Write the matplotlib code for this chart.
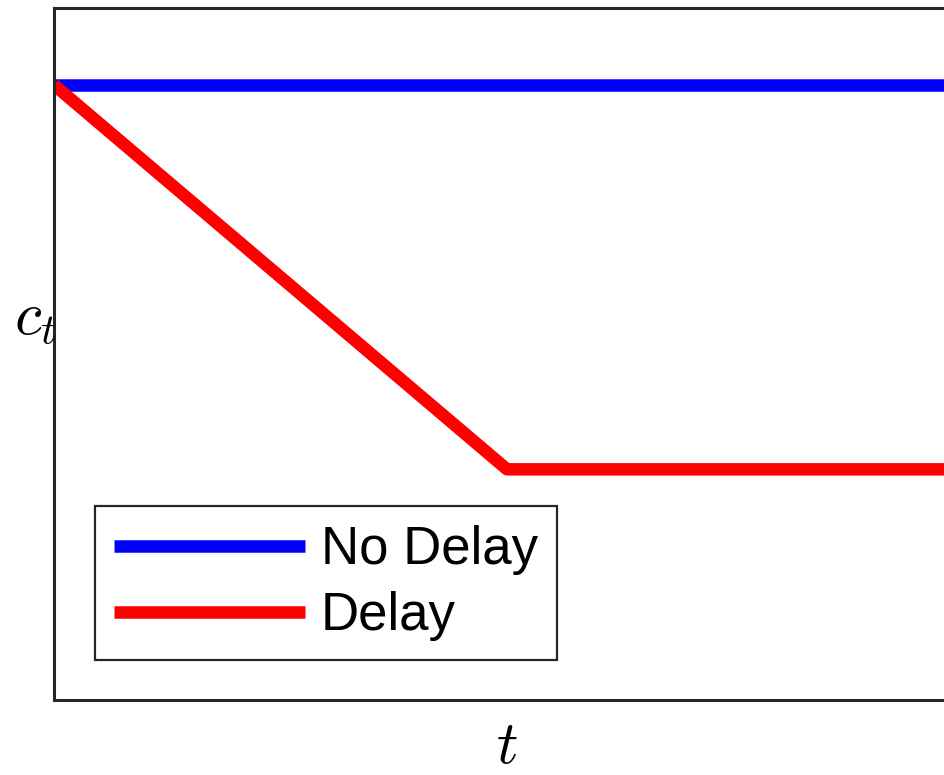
import matplotlib
matplotlib.use("Agg")
import matplotlib.pyplot as plt

plt.rcParams['mathtext.fontset'] = 'cm'
plt.rcParams['font.family'] = ['Liberation Sans', 'DejaVu Sans']

t_nodelay = [0, 2]
c_nodelay = [8, 8]
t_delay = [0, 1, 2]
c_delay = [8, 3, 3]
labels = ["No Delay", "Delay"]

W, H = 945, 775
fig = plt.figure(figsize=(W / 100, H / 100), dpi=100)
ax = fig.add_axes([54 / W, 75 / H, 906 / W, 692 / H])
ax.plot(t_nodelay, c_nodelay, color='#0000ff', lw=9, label=labels[0], solid_capstyle='butt')
ax.plot(t_delay, c_delay, color='#ff0000', lw=9, label=labels[1], solid_capstyle='butt')
ax.set_xlim(0, 2)
ax.set_ylim(0, 9)
ax.set_xticks([])
ax.set_yticks([])
for s in ax.spines.values():
    s.set_linewidth(2.2)
    s.set_color('#262626')

fig.text(35 / W, 1 - 318 / H, r'$c_t$', fontsize=44, ha='center', va='center')
fig.text(507 / W, 1 - 748 / H, r'$t$', fontsize=43, ha='center', va='center')

leg = ax.legend(loc='lower left', bbox_to_anchor=(95 / W, 115 / H), bbox_transform=fig.transFigure,
                borderaxespad=0, fontsize=38, handlelength=3.62, handletextpad=0.3,
                labelspacing=0.3, borderpad=0.36, fancybox=False, framealpha=1)
leg.get_frame().set_edgecolor('#262626')
leg.get_frame().set_linewidth(1.6)

fig.savefig('out.png', dpi=100)
